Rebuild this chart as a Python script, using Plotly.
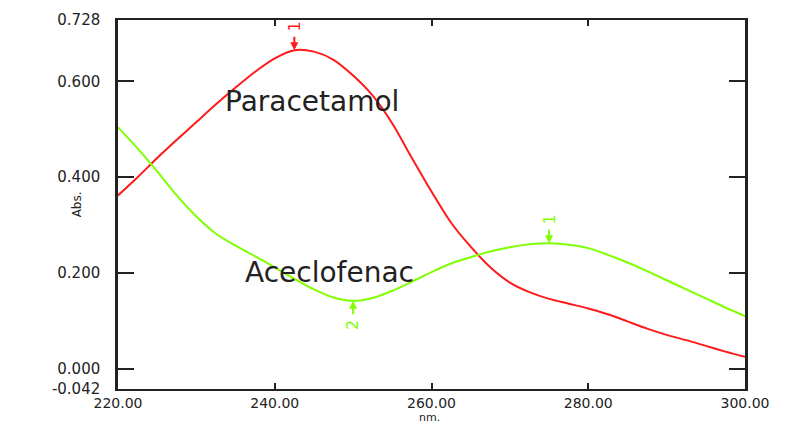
import numpy as np
import plotly.graph_objects as go

# ---- data ----
wavelength_nm = [220.0, 222.5, 225.0, 227.5, 230.0, 232.5, 235.0, 237.5, 240.0, 242.5,
                 245.0, 247.5, 250.0, 252.5, 255.0, 257.5, 260.0, 262.5, 265.0, 267.5,
                 270.0, 272.5, 275.0, 277.5, 280.0, 282.5, 285.0, 287.5, 290.0, 292.5,
                 295.0, 297.5, 300.0]

paracetamol_abs = [0.362, 0.400, 0.440, 0.478, 0.515, 0.552, 0.587, 0.620, 0.648, 0.665,
                   0.662, 0.645, 0.612, 0.570, 0.512, 0.440, 0.370, 0.305, 0.255, 0.212,
                   0.180, 0.160, 0.146, 0.136, 0.126, 0.114, 0.099, 0.084, 0.071, 0.060,
                   0.048, 0.036, 0.025]

aceclofenac_abs = [0.504, 0.460, 0.412, 0.362, 0.318, 0.282, 0.257, 0.235, 0.212, 0.188,
                   0.166, 0.149, 0.142, 0.148, 0.163, 0.182, 0.202, 0.220, 0.233, 0.245,
                   0.254, 0.260, 0.262, 0.259, 0.252, 0.238, 0.222, 0.204, 0.185, 0.166,
                   0.147, 0.128, 0.110]

y_tick_values = [-0.042, 0.0, 0.2, 0.4, 0.6, 0.728]
y_tick_labels = ["-0.042", "0.000", "0.200", "0.400", "0.600", "0.728"]
x_tick_values = [220, 240, 260, 280, 300]
x_tick_labels = ["220.00", "240.00", "260.00", "280.00", "300.00"]

RED = "#ff1a1a"
GREEN = "#80ff00"
FONT = "DejaVu Sans"
TXT = "#222222"

fig = go.Figure()
fig.add_trace(go.Scatter(x=wavelength_nm, y=paracetamol_abs, mode="lines",
                         line=dict(color=RED, width=2, shape="spline", smoothing=0.8),
                         name="Paracetamol", showlegend=False))
fig.add_trace(go.Scatter(x=wavelength_nm, y=aceclofenac_abs, mode="lines",
                         line=dict(color=GREEN, width=2, shape="spline", smoothing=0.8),
                         name="Aceclofenac", showlegend=False))

wl = np.array(wavelength_nm)


def local_extrema(values):
    v = np.array(values)
    s = np.sign(np.diff(v))
    maxima = [i for i in range(1, len(v) - 1) if s[i - 1] > 0 and s[i] < 0]
    minima = [i for i in range(1, len(v) - 1) if s[i - 1] < 0 and s[i] > 0]
    return maxima, minima


pa_max, _ = local_extrema(paracetamol_abs)
ac_max, ac_min = local_extrema(aceclofenac_abs)
ip, ia, im = pa_max[0], ac_max[0], ac_min[0]


def marker(xv, yv, label, color, up):
    return dict(x=xv, y=yv, text=label, textangle=-90, showarrow=True, ax=0,
                ay=24 if up else -24, arrowhead=2, arrowsize=0.8, arrowwidth=2,
                arrowcolor=color, startstandoff=4,
                font=dict(family=FONT, size=16, color=color))


annotations = [
    marker(wl[ip], paracetamol_abs[ip], "1", RED, False),
    marker(wl[ia], aceclofenac_abs[ia], "1", GREEN, False),
    marker(wl[im], aceclofenac_abs[im], "2", GREEN, True),
    # curve names
    dict(x=244.75, y=0.557, xref="x", yref="y", text="Paracetamol", showarrow=False,
         font=dict(family=FONT, size=28, color=TXT)),
    dict(x=247.0, y=0.202, xref="x", yref="y", text="Aceclofenac", showarrow=False,
         font=dict(family=FONT, size=28, color=TXT)),
    # axis titles
    dict(x=-0.08, y=0.5, xref="paper", yref="paper", text="Abs.", textangle=-90,
         showarrow=False, font=dict(family=FONT, size=12, color=TXT)),
    dict(x=0.497, y=-0.054, xref="paper", yref="paper", text="nm.", yanchor="top",
         showarrow=False, font=dict(family=FONT, size=11, color=TXT)),
]

fig.update_layout(
    width=790, height=423,
    margin=dict(l=118, r=45, t=20, b=34, autoexpand=False),
    paper_bgcolor="white", plot_bgcolor="white",
    font=dict(family=FONT, color=TXT),
    annotations=annotations,
    showlegend=False,
)
fig.update_xaxes(range=[220, 300], tickvals=x_tick_values, ticktext=x_tick_labels,
                 ticks="inside", ticklen=6, tickwidth=2, tickcolor=TXT,
                 showline=True, linewidth=2, linecolor=TXT, mirror="ticks",
                 showgrid=False, zeroline=False, automargin=False,
                 tickfont=dict(family=FONT, size=14, color=TXT),
                 ticklabelstandoff=0)
fig.update_yaxes(range=[-0.042, 0.728], tickvals=y_tick_values, ticktext=y_tick_labels,
                 ticks="inside", ticklen=16, tickwidth=1.5, tickcolor=TXT,
                 showline=True, linewidth=2.5, linecolor=TXT, mirror="ticks",
                 showgrid=False, zeroline=False, automargin=False,
                 tickfont=dict(family=FONT, size=15, color=TXT),
                 ticklabelstandoff=12)

fig.write_html("out.html", config={"displayModeBar": False},
               post_script="document.body.style.margin='0';")
